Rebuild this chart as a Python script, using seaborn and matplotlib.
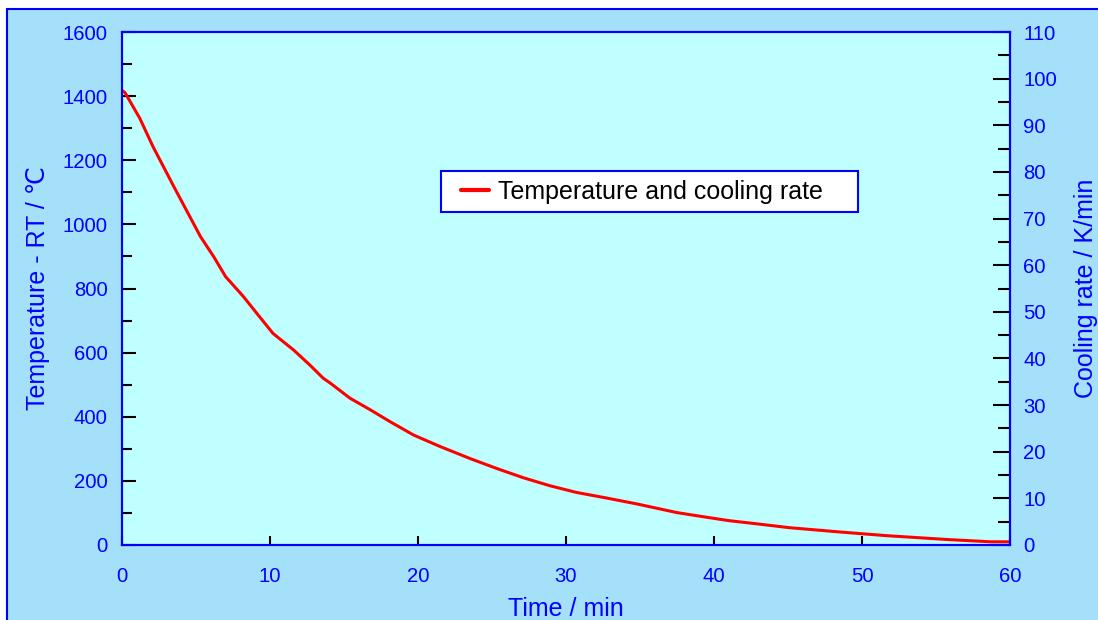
import numpy as np
import pandas as pd
import seaborn as sns
import matplotlib.pyplot as plt
from matplotlib.patches import Rectangle
from matplotlib.ticker import MultipleLocator

# values
time_min = [0.0, 0.2, 1.2, 2.1, 2.8, 3.5, 4.4, 5.3, 6.2, 7.0, 8.2, 9.1, 10.2,
            11.6, 12.7, 13.6, 14.1, 15.4, 16.8, 18.1, 19.7, 21.5, 23.5, 25.3,
            27.1, 28.9, 30.7, 32.8, 34.8, 37.5, 39.3, 41.0, 42.9, 45.1, 48.4,
            51.7, 55.8, 58.7, 60.0]
temp_c = [1418, 1411, 1331, 1242, 1180, 1118, 1040, 962, 899, 837, 775, 723, 660,
          608, 561, 520, 504, 458, 421, 385, 343, 307, 270, 239,
          210, 185, 164, 146, 128, 101, 88, 76, 66, 54, 41,
          29, 17, 10, 10]

df = pd.DataFrame({"time": time_min, "temp": temp_c})

sns.set_style("white")
plt.rcParams['font.family'] = ['Liberation Sans', 'DejaVu Sans']

blue = '#0000ff'
tick_fs = 14.6
label_fs = 18

fig = plt.figure(figsize=(10.98, 6.2), dpi=100, facecolor='white')
# outer light-blue frame
fig.patches.append(Rectangle((7 / 1098, -0.1), 1.2, 1.1 - 9 / 620,
                             transform=fig.transFigure, facecolor='#a4e0fa',
                             edgecolor=blue, linewidth=1.5, zorder=-10))

ax = fig.add_axes([122 / 1098, 1 - 545 / 620, 888 / 1098, 513 / 620])
ax.set_facecolor('#c0ffff')

sns.lineplot(data=df, x='time', y='temp', ax=ax, color='#ff0000', linewidth=2.2,
             estimator=None, sort=False, label='Temperature and cooling rate')

ax.set_xlim(0, 60)
ax.set_ylim(0, 1600)
ax.xaxis.set_major_locator(MultipleLocator(10))
ax.yaxis.set_major_locator(MultipleLocator(200))
ax.yaxis.set_minor_locator(MultipleLocator(100))

for s in ax.spines.values():
    s.set_color(blue)
    s.set_linewidth(1.5)

ax.tick_params(axis='x', which='major', direction='in', length=6.5, width=1.5,
               color='black', labelcolor=blue, labelsize=tick_fs, pad=15.5, bottom=True)
ax.tick_params(axis='y', which='major', direction='in', length=10, width=1.5,
               color='black', labelcolor=blue, labelsize=tick_fs, pad=10.5, left=True)
ax.tick_params(axis='y', which='minor', direction='in', length=7, width=1.5,
               color='black', left=True)

ax.set_xlabel('Time / min', color=blue, fontsize=label_fs, labelpad=8)
ax.set_ylabel('Temperature - RT / ℃', color=blue, fontsize=label_fs, labelpad=9)

ax2 = ax.twinx()
ax2.set_ylim(0, 110)
ax2.yaxis.set_major_locator(MultipleLocator(10))
ax2.yaxis.set_minor_locator(MultipleLocator(5))
ax2.tick_params(axis='y', which='major', direction='in', length=12, width=1.5,
                color='black', labelcolor=blue, labelsize=tick_fs, pad=9.5, right=True)
ax2.tick_params(axis='y', which='minor', direction='in', length=8.5, width=1.5,
                color='black', right=True)
for s in ax2.spines.values():
    s.set_color(blue)
    s.set_linewidth(1.5)
ax2.set_ylabel('Cooling rate / K/min', color=blue, fontsize=label_fs, labelpad=12)

# legend box drawn as a plain white rectangle, legend entry placed inside it
ax.add_patch(Rectangle((319 / 888, 333 / 513), 417 / 888, 41 / 513,
                       transform=ax.transAxes, facecolor='white', edgecolor=blue,
                       linewidth=1.5, zorder=4))
leg = ax.legend(loc='center left', bbox_to_anchor=(339 / 888, 353.5 / 513),
                fontsize=label_fs, frameon=False, handlelength=1.12,
                handletextpad=0.36, borderpad=0, borderaxespad=0)
for h in leg.get_lines():
    h.set_linewidth(3)
for t in leg.get_texts():
    t.set_color('black')
leg.set_zorder(5)

fig.savefig('out.png', dpi=100, facecolor=fig.get_facecolor())
